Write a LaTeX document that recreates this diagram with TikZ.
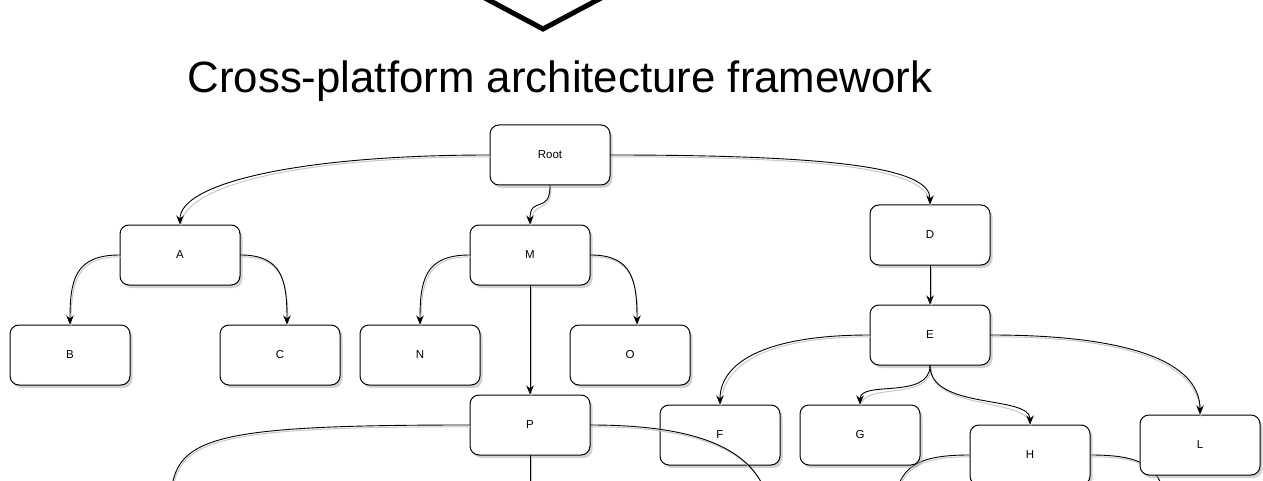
\documentclass[tikz,border=0pt]{standalone}
\usepackage{fontspec}
\setmainfont{Liberation Sans}
\usetikzlibrary{shadows,arrows.meta,backgrounds}

\begin{document}
\begin{tikzpicture}[x=1pt, y=1pt, line cap=round, line join=round,
    >={Stealth[length=9pt,width=7.5pt]},
    box/.style={draw, line width=1pt, rounded corners=9pt, fill=white,
      minimum width=120pt, minimum height=60pt, inner sep=0pt,
      font=\fontsize{11.5}{13}\selectfont,
      drop shadow={shadow xshift=2.5pt, shadow yshift=-3pt, fill=black!35}},
    link/.style={line width=0.9pt,
      preaction={draw=black!22, line width=1pt, -, transform canvas={shift={(1pt,-1.8pt)}}}}]
    % Frame of the picture
    \useasboundingbox (0,0) rectangle (1263,480);
    \clip (0,0) rectangle (1263,480);
    
    % Big diamond, only its lower tip is in view
    \draw[line width=5pt, line join=miter] (543,451) -- (648,507) -- (543,563) -- (438,507) -- cycle;
    
    % Title
    \node[font=\fontsize{43.8}{50}\selectfont, anchor=base, inner sep=0pt] (title) at (560,387) {Cross-platform architecture framework};
    
    % Boxes
    \node[box] (root) at (550,325) {Root};
    \node[box] (a) at (180,225) {A};
    \node[box] (m) at (530,225) {M};
    \node[box] (d) at (930,245) {D};
    \node[box] (b) at (70,125) {B};
    \node[box] (c) at (280,125) {C};
    \node[box] (n) at (420,125) {N};
    \node[box] (o) at (630,125) {O};
    \node[box] (e) at (930,145) {E};
    \node[box] (p) at (530,55) {P};
    \node[box] (f) at (720,45) {F};
    \node[box] (g) at (860,45) {G};
    \node[box] (h) at (1030,25) {H};
    \node[box] (l) at (1200,35) {L};
    
    % Loose ends below the frame
    \coordinate (p-sw) at (170,-40);
    \coordinate (p-se) at (770,-30);
    \coordinate (p-s) at (530,-10);
    \coordinate (h-sw) at (895,-30);
    \coordinate (h-se) at (1165,-30);
    
    % Links
    \draw[link,->] (root.west) .. controls (300,325) and (180,297) .. (a.north);
    \draw[link,->] (root.south) .. controls (550,265) and (530,285) .. (m.north);
    \draw[link,->] (root.east) .. controls (850,325) and (930,310) .. (d.north);
    \draw[link,->] (a.west) .. controls (75,225) and (70,200) .. (b.north);
    \draw[link,->] (a.east) .. controls (282,225) and (287,200) .. ([xshift=7pt]c.north);
    \draw[link,->] (m.west) .. controls (425,225) and (420,200) .. (n.north);
    \draw[link,->] (m.east) .. controls (632,225) and (637,200) .. ([xshift=7pt]o.north);
    \draw[link,->] (m.south) -- (p.north);
    \draw[link,->] (d.south) -- (e.north);
    \draw[link,->] (e.west) .. controls (760,145) and (720,115) .. (f.north);
    \draw[link,->] (e.south) .. controls (930,80) and (860,100) .. (g.north);
    \draw[link,->] (e.south) .. controls (930,70) and (1030,85) .. (h.north);
    \draw[link,->] (e.east) .. controls (1150,145) and (1200,110) .. (l.north);
    \draw[link] (p.west) .. controls (180,55) and (170,40) .. (p-sw);
    \draw[link] (p.east) .. controls (700,55) and (762,30) .. (p-se);
    \draw[link] (p.south) -- (p-s);
    
    % These two pass behind G and L
    \begin{scope}[on background layer]
        \draw[link] (h.west) .. controls (920,25) and (895,15) .. (h-sw);
        \draw[link] (h.east) .. controls (1140,25) and (1165,15) .. (h-se);
    \end{scope}
\end{tikzpicture}
\end{document}
